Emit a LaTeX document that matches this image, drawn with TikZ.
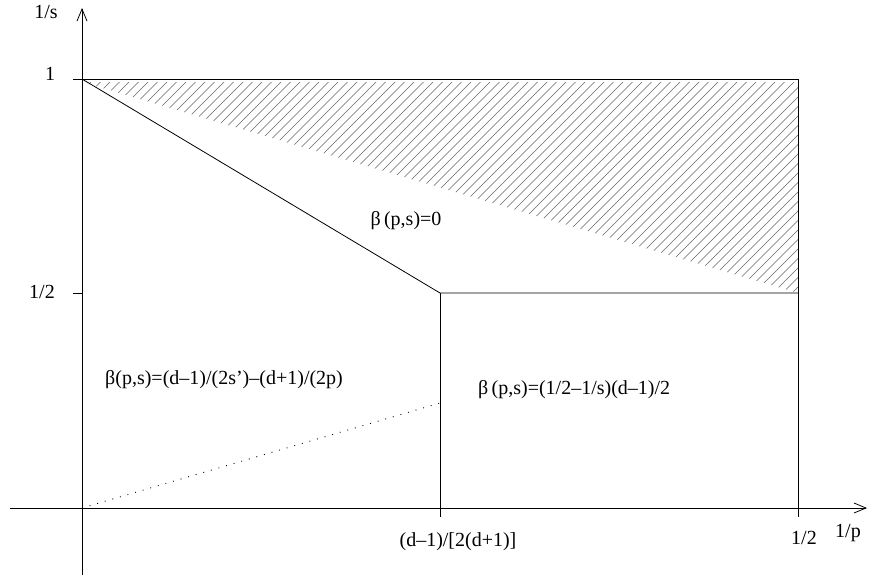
\documentclass[tikz,border=0pt]{standalone}
\usepackage{fontspec}
\setmainfont{Liberation Serif}
\usetikzlibrary{arrows.meta}
\begin{document}
\begin{tikzpicture}[x=1pt, y=-1pt,
    axis/.style={line width=0.8pt, -{Straight Barb[length=12pt, width=10pt]}},
    edge/.style={line width=0.8pt},
    hatch/.style={line width=0.6pt, gray!80!black},
    dots/.style={line width=0.9pt, dash pattern=on 0.9pt off 7pt},
    label/.style={font=\fontsize{20}{24}\selectfont, inner sep=0pt}
]
\useasboundingbox (0,0) rectangle (869,582);

% Ejes
\coordinate (xstart) at (10,508);
\coordinate (xend) at (867,508);
\coordinate (ystart) at (82,575);
\coordinate (yend) at (82,8);
\draw[axis] (xstart) -- (xend);
\draw[axis] (ystart) -- (yend);

% Puntos de la figura
\coordinate (O) at (82,508);
\coordinate (A) at (82,79);
\coordinate (B) at (798,79);
\coordinate (C) at (440,293);
\coordinate (D) at (798,293);
\coordinate (E) at (440,403);
\coordinate (tickA) at (73,79);
\coordinate (tickH) at (73,293);
\coordinate (H) at (82,293);
\coordinate (Cbot) at (440,517);
\coordinate (Dbot) at (798,517);

% Region rayada
\begin{scope}
    \clip (82,82) -- (798,82) -- (D) -- cycle;
    \foreach \k in {-25,...,80} {
        \draw[hatch] (82+9.5*\k,300) -- ++(230,-230);
    }
\end{scope}

% Lineas
\draw[edge] (tickA) -- (B) -- (Dbot);
\draw[edge] (tickH) -- (H);
\draw[edge] (A) -- (C) -- (D);
\draw[edge] (C) -- (Cbot);
\draw[dots] (O) -- (E);

% Etiquetas
\node[label] (ylab) at (46,12) {1/s};
\node[label] (yone) at (50,74) {1};
\node[label] (yhalf) at (42,292) {1/2};
\node[label] (xlab) at (848,533) {1/p};
\node[label] (xhalf) at (804,538) {1/2};
\node[label] (xcrit) at (458,542) {(d–1)/[2(d+1)]};
\node[label] (zero) at (406,221) {β\,(p,s)=0};
\node[label, anchor=west] (left) at (105,380) {β(p,s)=(d–1)/(2s’)–(d+1)/(2p)};
\node[label, anchor=west] (right) at (478,390) {β\,(p,s)=(1/2–1/s)(d–1)/2};
\end{tikzpicture}
\end{document}
